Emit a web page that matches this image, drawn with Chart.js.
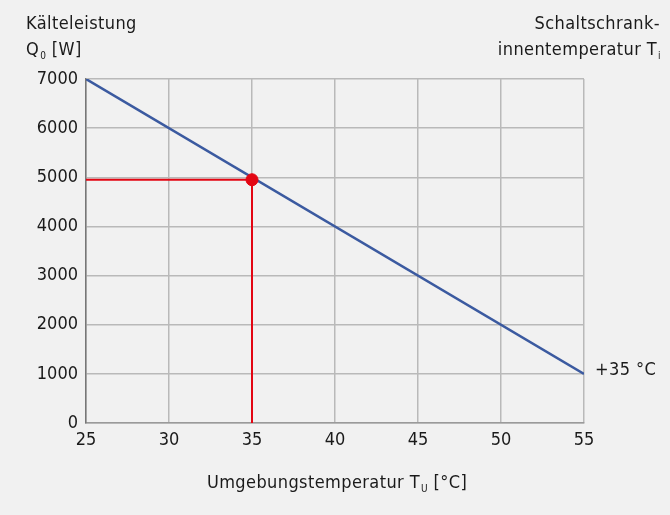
<!DOCTYPE html>
<html>
<head>
<meta charset="utf-8">
<script src="https://cdn.jsdelivr.net/npm/chart.js@4"></script>
<style>
  html, body { margin: 0; padding: 0; background: #f1f1f1; }
  #wrap { width: 670px; height: 515px; }
</style>
</head>
<body>
<div id="wrap"><canvas id="chart" width="670" height="515"></canvas></div>
<script>
// values
const curveTemps = [25, 55];
const curvePower = [7000, 1000];
const readTemps = [25, 35, 35];
const readPower = [4950, 4950, 0];
const pointTemp = [35];
const pointPower = [4950];
const xTicks = [25, 30, 35, 40, 45, 50, 55];
const yTicks = [0, 1000, 2000, 3000, 4000, 5000, 6000, 7000];

const FONT = "'DejaVu Sans Condensed', 'Liberation Sans Narrow', 'Roboto', sans-serif";
const TEXT = "#1a1a1a";
const SIZE = 18;

function toPoints(xs, ys) {
  return xs.map((x, i) => ({ x, y: ys[i] }));
}

// draws "main" followed by a small subscript and optional tail text
function drawSub(ctx, x, y, main, sub, tail, align) {
  ctx.font = SIZE + "px " + FONT;
  const w1 = ctx.measureText(main).width;
  ctx.font = "10px " + FONT;
  const w2 = ctx.measureText(sub).width;
  ctx.font = SIZE + "px " + FONT;
  const w3 = tail ? ctx.measureText(tail).width : 0;
  const total = w1 + 1 + w2 + w3;
  let start = x;
  if (align === "center") start = x - total / 2;
  if (align === "right") start = x - total;
  ctx.textAlign = "left";
  ctx.textBaseline = "alphabetic";
  ctx.fillText(main, start, y);
  ctx.font = "10px " + FONT;
  ctx.fillText(sub, start + w1 + 1, y + 4);
  if (tail) {
    ctx.font = SIZE + "px " + FONT;
    ctx.fillText(tail, start + w1 + 1 + w2, y);
  }
}

const labelsPlugin = {
  id: "labels",
  afterDraw(chart) {
    const ctx = chart.ctx;
    ctx.save();
    ctx.fillStyle = TEXT;
    ctx.letterSpacing = "0.4px";
    ctx.font = SIZE + "px " + FONT;
    ctx.textAlign = "left";
    ctx.fillText("Kälteleistung", 26, 29);
    drawSub(ctx, 26, 55, "Q", "0", " [W]", "left");

    ctx.textAlign = "right";
    ctx.font = SIZE + "px " + FONT;
    ctx.fillText("Schaltschrank-", 660, 29);
    drawSub(ctx, 661, 55, "innentemperatur T", "i", "", "right");

    const xs = chart.scales.x;
    const ys = chart.scales.y;
    ctx.font = SIZE + "px " + FONT;
    ctx.textAlign = "left";
    ctx.textBaseline = "middle";
    ctx.fillText("+35 °C", xs.right + 11, ys.getPixelForValue(curvePower[1]) - 4);

    drawSub(ctx, (xs.left + xs.right) / 2 + 2, 488, "Umgebungstemperatur T", "U", " [°C]", "center");
    ctx.restore();
  }
};

new Chart(document.getElementById("chart"), {
  type: "scatter",
  data: {
    datasets: [
      {
        data: toPoints(pointTemp, pointPower),
        backgroundColor: "#e30613",
        borderColor: "#e30613",
        pointRadius: 6,
        showLine: false,
        order: 0
      },
      {
        data: toPoints(curveTemps, curvePower),
        borderColor: "#3b5aa0",
        borderWidth: 2.5,
        pointRadius: 0,
        showLine: true,
        order: 1
      },
      {
        data: toPoints(readTemps, readPower),
        borderColor: "#e30613",
        borderWidth: 2,
        pointRadius: 0,
        showLine: true,
        order: 2
      }
    ]
  },
  options: {
    responsive: false,
    animation: false,
    layout: { padding: { top: 79, right: 86, left: 0, bottom: 0 } },
    plugins: { legend: { display: false }, tooltip: { enabled: false } },
    scales: {
      x: {
        type: "linear",
        min: 25,
        max: 55,
        afterBuildTicks: (s) => { s.ticks = xTicks.map((v) => ({ value: v })); },
        afterFit: (s) => { s.height = 92; },
        grid: { color: "#b9b9b9", lineWidth: 1.5, drawTicks: false },
        border: { color: "#9a9a9a", width: 1.5 },
        ticks: {
          color: TEXT,
          font: { family: FONT, size: SIZE },
          padding: 7,
          maxRotation: 0,
          callback: (v) => String(v)
        }
      },
      y: {
        min: 0,
        max: 7000,
        afterBuildTicks: (s) => { s.ticks = yTicks.map((v) => ({ value: v })); },
        afterFit: (s) => { s.width = 86; },
        grid: { color: "#b9b9b9", lineWidth: 1.5, drawTicks: false },
        border: { color: "#777777", width: 1.5 },
        ticks: {
          color: TEXT,
          font: { family: FONT, size: SIZE },
          padding: 8,
          callback: (v) => String(v)
        }
      }
    }
  },
  plugins: [labelsPlugin]
});
</script>
</body>
</html>
